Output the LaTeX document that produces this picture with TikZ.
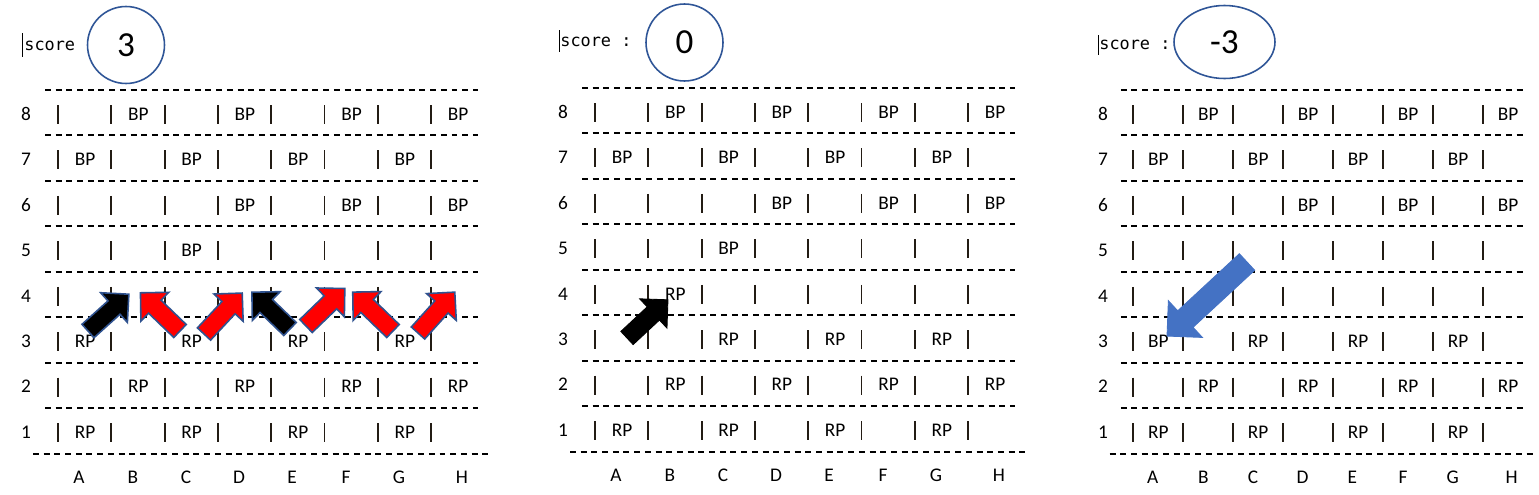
\documentclass[tikz,border=0pt]{standalone}
\usepackage{fontspec}
\setmainfont{Carlito}
\newfontfamily\scorefont{DejaVu Sans Mono}
\usetikzlibrary{shapes.geometric}

\definecolor{ringblue}{RGB}{47,85,151}
\definecolor{edgeblue}{RGB}{47,82,143}
\definecolor{movered}{RGB}{255,0,0}
\definecolor{moveblue}{RGB}{68,114,196}
\definecolor{barink}{RGB}{35,28,20}

\tikzset{
  dashrow/.style={line width=1.15pt, dash pattern=on 0.12cm off 0.094cm},
  pipe/.style={line width=0.038cm, barink},
  boardtext/.style={font=\fontsize{11}{12}\selectfont, inner sep=0pt},
  scoretext/.style={font=\scorefont\fontsize{9.6}{11}\selectfont, inner sep=0pt, anchor=west},
  scorering/.style={draw=ringblue, line width=0.9pt, font=\fontsize{20}{24}\selectfont, inner sep=0pt},
  caret/.style={line width=0.4pt},
  redmove/.style={fill=movered, draw=edgeblue, line width=0.9pt, line join=miter},
  blackmove/.style={fill=black, draw=edgeblue, line width=0.9pt, line join=miter},
  plainmove/.style={fill=black, draw=black, line width=0.5pt, line join=miter},
  bluemove/.style={fill=moveblue, draw=moveblue, line width=0.5pt, line join=miter}
}

% block arrow: (tail)(angle:length:head size)
\def\blockarrow[#1](#2)(#3:#4:#5){\draw[#1, shift={(#2)}, rotate=#3] (0,{-0.45*#5}) -- ({#4-#5},{-0.45*#5}) -- ({#4-#5},{-#5}) -- (#4,0) -- ({#4-#5},#5) -- ({#4-#5},{0.45*#5}) -- (0,{0.45*#5}) -- cycle;}

% pieces in one row: prefix, row, columns (0=A), text
\newcommand{\pieces}[4]{\foreach \c in {#3} \node[boardtext] (#1-#2-\c) at ({85+53.3*\c},{114+45.45*(8-#2)}) {#4};}

% dashed rows, bars, row numbers, column letters and the untouched rows
\newcommand{\boardgrid}[1]{%
  \foreach \k in {0,...,7} \draw[dashrow] (45,{90+45.45*\k}) -- (478,{90+45.45*\k});
  \draw[dashrow] (33,453.6) -- (488,453.6);
  \foreach \r in {1,...,8} {
    \node[boardtext] (#1-num\r) at (26,{114+45.45*(8-\r)}) {\r};
    \foreach \k in {0,...,7} \draw[pipe] ({58+53.3*\k},{105+45.45*(8-\r)}) -- ++(0,19);
  }
  \foreach \l/\x in {A/79,B/133,C/186,D/239,E/292,F/346,G/399,H/462}
    \node[boardtext] (#1-col\l) at (\x,477) {\l};
  \pieces{#1}{8}{1,3,5,7}{BP}
  \pieces{#1}{7}{0,2,4,6}{BP}
  \pieces{#1}{6}{3,5,7}{BP}
  \pieces{#1}{2}{1,3,5,7}{RP}
  \pieces{#1}{1}{0,2,4,6}{RP}
}

\begin{document}
\begin{tikzpicture}[x=0.02cm, y=-0.02cm]
  \fill[white] (0,0) rectangle (1539,494);
  \useasboundingbox (0,0) rectangle (1539,494);

  %%%%% LEFT BOARD, score 3 %%%%%
  \draw[caret] (22,33) -- (22,57);
  \node[scoretext] (label-a) at (24,46) {score};
  \node[scorering, circle, minimum size=1.54cm] (score-a) at (126,45) {3};
  \begin{scope}
    \boardgrid{a}
    \pieces{a}{5}{2}{BP}
    \pieces{a}{3}{0,2,4,6}{RP}
  \end{scope}
  \blockarrow[blackmove](88,331)(42:55:20)
  \blockarrow[redmove](180,331)(136:55:20)
  \blockarrow[redmove](204,334)(47:56:20)
  \blockarrow[blackmove](290,329)(136:53:20)
  \blockarrow[redmove](306,326)(44:54:20)
  \blockarrow[redmove](393,331)(136:56:20)
  \blockarrow[redmove](418,333)(48:55:20)

  %%%%% MIDDLE BOARD, score 0 %%%%%
  \draw[caret] (559,30) -- (559,52);
  \node[scoretext] (label-b) at (560,42) {score :};
  \node[scorering, circle, minimum size=1.54cm] (score-b) at (684.5,42.5) {0};
  \begin{scope}[shift={(537,-2)}]
    \boardgrid{b}
    \pieces{b}{5}{2}{BP}
    \pieces{b}{4}{1}{RP}
    \pieces{b}{3}{2,4,6}{RP}
  \end{scope}
  \blockarrow[plainmove](627,338)(43:56:20)

  %%%%% RIGHT BOARD, score -3 %%%%%
  \draw[caret] (1098,35) -- (1098,55);
  \node[scoretext] (label-c) at (1099,45) {score :};
  \node[scorering, ellipse, minimum width=2.02cm, minimum height=1.46cm] (score-c) at (1224.5,42) {-3};
  \begin{scope}[shift={(1078.6,0)}, xscale=0.9375]
    \boardgrid{c}
    \pieces{c}{3}{0}{BP}
    \pieces{c}{3}{2,4,6}{RP}
  \end{scope}
  \blockarrow[bluemove](1247,262)(222.8:109:25)
\end{tikzpicture}
\end{document}
